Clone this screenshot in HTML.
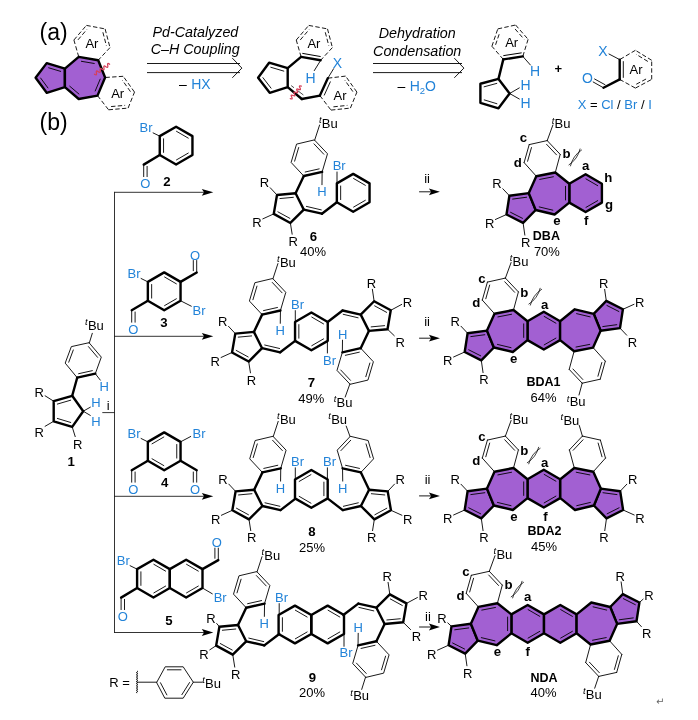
<!DOCTYPE html>
<html lang="en"><head><meta charset="utf-8"><title>Scheme</title>
<style>
html,body{margin:0;padding:0;background:#fff;}
body{width:698px;height:720px;overflow:hidden;}
svg{display:block;font-family:"Liberation Sans",sans-serif;will-change:transform;}
</style></head><body>
<svg width="698" height="720" viewBox="0 0 698 720">
<rect x="0" y="0" width="698" height="720" fill="#fff"/>
<text x="39.5" y="39.8" font-size="23" fill="#000">(a)</text>
<line x1="78.75" y1="56.9" x2="73.9" y2="40" stroke="#000" stroke-width="0.9" stroke-linecap="butt" stroke-dasharray="4.4 2.3"/>
<line x1="73.9" y1="40" x2="86.4" y2="25.4" stroke="#000" stroke-width="0.9" stroke-linecap="butt" stroke-dasharray="4.4 2.3"/>
<line x1="77.93" y1="39.91" x2="86.93" y2="29.4" stroke="#000" stroke-width="0.9" stroke-linecap="butt" stroke-dasharray="4.4 2.3"/>
<line x1="86.4" y1="25.4" x2="105.1" y2="28.9" stroke="#000" stroke-width="0.9" stroke-linecap="butt" stroke-dasharray="4.4 2.3"/>
<line x1="105.1" y1="28.9" x2="110" y2="47.6" stroke="#000" stroke-width="0.9" stroke-linecap="butt" stroke-dasharray="4.4 2.3"/>
<line x1="102.88" y1="32.28" x2="106.41" y2="45.74" stroke="#000" stroke-width="0.9" stroke-linecap="butt" stroke-dasharray="4.4 2.3"/>
<line x1="110" y1="47.6" x2="98.2" y2="60.2" stroke="#000" stroke-width="0.9" stroke-linecap="butt" stroke-dasharray="4.4 2.3"/>
<line x1="97.5" y1="95.6" x2="108.6" y2="109.8" stroke="#000" stroke-width="0.9" stroke-linecap="butt" stroke-dasharray="4.4 2.3"/>
<line x1="108.6" y1="109.8" x2="128.1" y2="108.1" stroke="#000" stroke-width="0.9" stroke-linecap="butt" stroke-dasharray="4.4 2.3"/>
<line x1="111.07" y1="106.57" x2="125.11" y2="105.35" stroke="#000" stroke-width="0.9" stroke-linecap="butt" stroke-dasharray="4.4 2.3"/>
<line x1="128.1" y1="108.1" x2="134.5" y2="92.1" stroke="#000" stroke-width="0.9" stroke-linecap="butt" stroke-dasharray="4.4 2.3"/>
<line x1="134.5" y1="92.1" x2="123.2" y2="76.3" stroke="#000" stroke-width="0.9" stroke-linecap="butt" stroke-dasharray="4.4 2.3"/>
<line x1="130.48" y1="91.63" x2="122.34" y2="80.26" stroke="#000" stroke-width="0.9" stroke-linecap="butt" stroke-dasharray="4.4 2.3"/>
<line x1="123.2" y1="76.3" x2="105.1" y2="77.5" stroke="#000" stroke-width="0.9" stroke-linecap="butt" stroke-dasharray="4.4 2.3"/>
<path d="M35.6 77.8 L46.7 63.1 L64.9 68.6 L64.9 87.2 L46.7 92.8 Z" fill="#a260d2" stroke="none"/>
<path d="M35.6 77.8 L46.7 63.1 L64.9 68.6 L64.9 87.2 L46.7 92.8 Z" fill="none" stroke="#000" stroke-width="2.4" stroke-linejoin="round" stroke-linecap="round"/>
<line x1="48.67" y1="67.77" x2="60.68" y2="71.4" stroke="#000" stroke-width="0.9" stroke-linecap="round"/>
<line x1="47.95" y1="87.93" x2="40.62" y2="78.03" stroke="#000" stroke-width="0.9" stroke-linecap="round"/>
<path d="M64.9 68.6 L78.75 56.9 L98.2 60.2 L105.1 77.5 L97.5 95.6 L78.75 99 L64.9 87.2 Z" fill="#a260d2" stroke="none"/>
<path d="M64.9 68.6 L78.75 56.9 L98.2 60.2 L105.1 77.5 L97.5 95.6 L78.75 99 L64.9 87.2 Z" fill="none" stroke="#000" stroke-width="2.4" stroke-linejoin="round" stroke-linecap="round"/>
<line x1="81.4" y1="61.31" x2="94.24" y2="63.48" stroke="#000" stroke-width="0.9" stroke-linecap="round"/>
<line x1="100.21" y1="79.07" x2="95.2" y2="91.01" stroke="#000" stroke-width="0.9" stroke-linecap="round"/>
<line x1="78.92" y1="94.03" x2="69.78" y2="86.24" stroke="#000" stroke-width="0.9" stroke-linecap="round"/>
<text x="91.9" y="48" font-size="13" fill="#000" text-anchor="middle">Ar</text>
<text x="117.7" y="98.3" font-size="13" fill="#000" text-anchor="middle">Ar</text>
<path d="M94.5 74.2 Q97.1 76.08 96.39 72.95 Q95.67 69.82 98.28 71.7 Q100.88 73.58 100.16 70.45 Q99.45 67.32 102.05 69.2 Q104.65 71.08 103.94 67.95 Q103.22 64.82 105.82 66.7 Q108.43 68.58 107.71 65.45 Q107 62.32 109.6 64.2" fill="none" stroke="#d63f58" stroke-width="1.3" stroke-linecap="round"/>
<text x="195.4" y="36.5" font-size="14.3" fill="#000" font-style="italic" text-anchor="middle">Pd-Catalyzed</text>
<text x="195.2" y="53.7" font-size="14.3" fill="#000" font-style="italic" text-anchor="middle">C–H Coupling</text>
<line x1="147" y1="63.5" x2="240" y2="63.5" stroke="#000" stroke-width="0.9" stroke-linecap="butt"/>
<line x1="147" y1="72.6" x2="240" y2="72.6" stroke="#000" stroke-width="0.9" stroke-linecap="butt"/>
<path d="M232.3 58.1 L241.9 68.1 L232.3 77.8" fill="none" stroke="#000" stroke-width="0.9" stroke-linejoin="miter" stroke-linecap="butt"/>
<text x="179" y="89.2" font-size="14" fill="#000">–</text>
<text x="191.2" y="89.2" font-size="14" fill="#2283d8">HX</text>
<path d="M258.1 77.8 L269.1 62.7 L287.7 68.2 L287.7 87.2 L269.7 92.8 Z" fill="none" stroke="#000" stroke-width="2.4" stroke-linejoin="round" stroke-linecap="round"/>
<line x1="270.78" y1="67.26" x2="283.8" y2="71.11" stroke="#000" stroke-width="0.9" stroke-linecap="round"/>
<line x1="271.05" y1="88.16" x2="262.93" y2="77.66" stroke="#000" stroke-width="0.9" stroke-linecap="round"/>
<line x1="301.1" y1="56.9" x2="296.25" y2="40" stroke="#000" stroke-width="0.9" stroke-linecap="butt" stroke-dasharray="4.4 2.3"/>
<line x1="296.25" y1="40" x2="308.75" y2="25.4" stroke="#000" stroke-width="0.9" stroke-linecap="butt" stroke-dasharray="4.4 2.3"/>
<line x1="300.28" y1="39.91" x2="309.28" y2="29.4" stroke="#000" stroke-width="0.9" stroke-linecap="butt" stroke-dasharray="4.4 2.3"/>
<line x1="308.75" y1="25.4" x2="327.5" y2="28.9" stroke="#000" stroke-width="0.9" stroke-linecap="butt" stroke-dasharray="4.4 2.3"/>
<line x1="327.5" y1="28.9" x2="332.4" y2="47.6" stroke="#000" stroke-width="0.9" stroke-linecap="butt" stroke-dasharray="4.4 2.3"/>
<line x1="325.28" y1="32.28" x2="328.81" y2="45.74" stroke="#000" stroke-width="0.9" stroke-linecap="butt" stroke-dasharray="4.4 2.3"/>
<line x1="332.4" y1="47.6" x2="320.6" y2="60.3" stroke="#000" stroke-width="0.9" stroke-linecap="butt" stroke-dasharray="4.4 2.3"/>
<line x1="287.7" y1="68.2" x2="301.1" y2="56.9" stroke="#000" stroke-width="2.4" stroke-linecap="round"/>
<line x1="301.1" y1="56.9" x2="320.6" y2="60.3" stroke="#000" stroke-width="2.4" stroke-linecap="round"/>
<line x1="320.26" y1="56.48" x2="302.71" y2="53.42" stroke="#000" stroke-width="1" stroke-linecap="round"/>
<text x="313.9" y="48" font-size="13" fill="#000" text-anchor="middle">Ar</text>
<line x1="320" y1="61.4" x2="314.3" y2="70.6" stroke="#000" stroke-width="0.9" stroke-linecap="round"/>
<text x="310.6" y="83.2" font-size="14" fill="#2283d8" text-anchor="middle">H</text>
<text x="337.5" y="67.6" font-size="14" fill="#2283d8" text-anchor="middle">X</text>
<line x1="333.6" y1="68.7" x2="327.8" y2="78.2" stroke="#000" stroke-width="0.9" stroke-linecap="round"/>
<line x1="319.9" y1="95.6" x2="331" y2="110.1" stroke="#000" stroke-width="0.9" stroke-linecap="butt" stroke-dasharray="4.4 2.3"/>
<line x1="331" y1="110.1" x2="350.4" y2="108.1" stroke="#000" stroke-width="0.9" stroke-linecap="butt" stroke-dasharray="4.4 2.3"/>
<line x1="333.41" y1="106.84" x2="347.38" y2="105.4" stroke="#000" stroke-width="0.9" stroke-linecap="butt" stroke-dasharray="4.4 2.3"/>
<line x1="350.4" y1="108.1" x2="356.9" y2="92.1" stroke="#000" stroke-width="0.9" stroke-linecap="butt" stroke-dasharray="4.4 2.3"/>
<line x1="356.9" y1="92.1" x2="345.6" y2="76.1" stroke="#000" stroke-width="0.9" stroke-linecap="butt" stroke-dasharray="4.4 2.3"/>
<line x1="352.87" y1="91.59" x2="344.73" y2="80.07" stroke="#000" stroke-width="0.9" stroke-linecap="butt" stroke-dasharray="4.4 2.3"/>
<line x1="345.6" y1="76.1" x2="327.8" y2="78.2" stroke="#000" stroke-width="0.9" stroke-linecap="butt" stroke-dasharray="4.4 2.3"/>
<line x1="327.8" y1="78.2" x2="319.9" y2="95.6" stroke="#000" stroke-width="2.4" stroke-linecap="round"/>
<line x1="330.31" y1="81.86" x2="324.31" y2="95.08" stroke="#000" stroke-width="0.9" stroke-linecap="round"/>
<line x1="319.9" y1="95.6" x2="301.8" y2="99" stroke="#000" stroke-width="2.4" stroke-linecap="round"/>
<line x1="301.8" y1="99" x2="287.7" y2="87.2" stroke="#000" stroke-width="2.4" stroke-linecap="round"/>
<line x1="291.2" y1="85.6" x2="303.4" y2="95" stroke="#000" stroke-width="0.7" stroke-linecap="butt" stroke-dasharray="3.5 5 8 0"/>
<text x="340" y="100.4" font-size="13" fill="#000" text-anchor="middle">Ar</text>
<path d="M290.3 98.6 Q293.23 99.82 291.68 97.05 Q290.12 94.28 293.05 95.5 Q295.98 96.72 294.43 93.95 Q292.87 91.18 295.8 92.4 Q298.73 93.62 297.18 90.85 Q295.62 88.08 298.55 89.3 Q301.48 90.52 299.93 87.75 Q298.37 84.98 301.3 86.2" fill="none" stroke="#d63f58" stroke-width="1.3" stroke-linecap="round"/>
<text x="417.2" y="38" font-size="14.3" fill="#000" font-style="italic" text-anchor="middle">Dehydration</text>
<text x="417.2" y="55.7" font-size="14.3" fill="#000" font-style="italic" text-anchor="middle">Condensation</text>
<line x1="373" y1="63.5" x2="462" y2="63.5" stroke="#000" stroke-width="0.9" stroke-linecap="butt"/>
<line x1="373" y1="72.6" x2="462" y2="72.6" stroke="#000" stroke-width="0.9" stroke-linecap="butt"/>
<path d="M454.3 58.1 L463.9 68.1 L454.3 77.8" fill="none" stroke="#000" stroke-width="0.9" stroke-linejoin="miter" stroke-linecap="butt"/>
<text x="397.5" y="91.2" font-size="14" fill="#000">–</text>
<text x="409.7" y="91.2" font-size="14" fill="#2283d8">H<tspan font-size="9.5" dy="3">2</tspan><tspan dy="-3">O</tspan></text>
<line x1="503.3" y1="59.4" x2="491.9" y2="46.25" stroke="#000" stroke-width="0.9" stroke-linecap="butt" stroke-dasharray="4.4 2.3"/>
<line x1="491.9" y1="46.25" x2="497.8" y2="28.9" stroke="#000" stroke-width="0.9" stroke-linecap="butt" stroke-dasharray="4.4 2.3"/>
<line x1="495.57" y1="44.79" x2="499.81" y2="32.29" stroke="#000" stroke-width="0.9" stroke-linecap="butt" stroke-dasharray="4.4 2.3"/>
<line x1="497.8" y1="28.9" x2="515.6" y2="25" stroke="#000" stroke-width="0.9" stroke-linecap="butt" stroke-dasharray="4.4 2.3"/>
<line x1="515.6" y1="25" x2="528.1" y2="39.3" stroke="#000" stroke-width="0.9" stroke-linecap="butt" stroke-dasharray="4.4 2.3"/>
<line x1="515.09" y1="28.98" x2="524.09" y2="39.27" stroke="#000" stroke-width="0.9" stroke-linecap="butt" stroke-dasharray="4.4 2.3"/>
<line x1="528.1" y1="39.3" x2="522.8" y2="56.4" stroke="#000" stroke-width="0.9" stroke-linecap="butt" stroke-dasharray="4.4 2.3"/>
<line x1="503.3" y1="59.4" x2="522.8" y2="56.4" stroke="#000" stroke-width="2.4" stroke-linecap="round"/>
<line x1="521.26" y1="52.89" x2="503.71" y2="55.59" stroke="#000" stroke-width="1" stroke-linecap="round"/>
<text x="511.7" y="46.7" font-size="13" fill="#000" text-anchor="middle">Ar</text>
<line x1="503.3" y1="59.4" x2="498.5" y2="78.9" stroke="#000" stroke-width="2.4" stroke-linecap="round"/>
<path d="M498.5 78.9 L480.4 83.75 L480.4 102.8 L498.5 108.3 L509.6 93.5 Z" fill="none" stroke="#000" stroke-width="2.4" stroke-linejoin="round" stroke-linecap="round"/>
<line x1="496.79" y1="83.39" x2="484.12" y2="86.79" stroke="#000" stroke-width="0.9" stroke-linecap="round"/>
<line x1="484.25" y1="99.89" x2="496.92" y2="103.74" stroke="#000" stroke-width="0.9" stroke-linecap="round"/>
<line x1="522.8" y1="56.4" x2="530.4" y2="65" stroke="#000" stroke-width="0.9" stroke-linecap="round"/>
<line x1="509.6" y1="93.5" x2="519.3" y2="87.9" stroke="#000" stroke-width="0.9" stroke-linecap="round"/>
<line x1="509.6" y1="93.5" x2="519.3" y2="99" stroke="#000" stroke-width="0.9" stroke-linecap="round"/>
<text x="535" y="75.8" font-size="14" fill="#2283d8" text-anchor="middle">H</text>
<text x="525.6" y="90.1" font-size="14" fill="#2283d8" text-anchor="middle">H</text>
<text x="525.6" y="107.9" font-size="14" fill="#2283d8" text-anchor="middle">H</text>
<text x="558.2" y="73" font-size="13" fill="#000" font-weight="bold" text-anchor="middle">+</text>
<line x1="619.7" y1="79.4" x2="635.4" y2="88.1" stroke="#000" stroke-width="0.9" stroke-linecap="butt" stroke-dasharray="4.4 2.3"/>
<line x1="635.4" y1="88.1" x2="651.7" y2="79.4" stroke="#000" stroke-width="0.9" stroke-linecap="butt" stroke-dasharray="4.4 2.3"/>
<line x1="636.27" y1="84.24" x2="648.01" y2="77.97" stroke="#000" stroke-width="0.9" stroke-linecap="butt" stroke-dasharray="4.4 2.3"/>
<line x1="651.7" y1="79.4" x2="651.7" y2="60.3" stroke="#000" stroke-width="0.9" stroke-linecap="butt" stroke-dasharray="4.4 2.3"/>
<line x1="651.7" y1="60.3" x2="635.4" y2="50.3" stroke="#000" stroke-width="0.9" stroke-linecap="butt" stroke-dasharray="4.4 2.3"/>
<line x1="647.85" y1="61.46" x2="636.11" y2="54.26" stroke="#000" stroke-width="0.9" stroke-linecap="butt" stroke-dasharray="4.4 2.3"/>
<line x1="635.4" y1="50.3" x2="619.7" y2="59.6" stroke="#000" stroke-width="0.9" stroke-linecap="butt" stroke-dasharray="4.4 2.3"/>
<line x1="619.7" y1="59.6" x2="619.7" y2="79.4" stroke="#000" stroke-width="2.4" stroke-linecap="round"/>
<line x1="623.3" y1="61.58" x2="623.3" y2="77.42" stroke="#000" stroke-width="0.9" stroke-linecap="round"/>
<text x="636.1" y="74" font-size="13" fill="#000" text-anchor="middle">Ar</text>
<line x1="609" y1="54" x2="619.7" y2="59.6" stroke="#000" stroke-width="0.9" stroke-linecap="round"/>
<text x="602.8" y="56.2" font-size="14" fill="#2283d8" text-anchor="middle">X</text>
<text x="587.5" y="82.6" font-size="14" fill="#2283d8" text-anchor="middle">O</text>
<line x1="619.7" y1="79.4" x2="603.5" y2="87.8" stroke="#000" stroke-width="2.4" stroke-linecap="round"/>
<line x1="603.5" y1="87.8" x2="593.2" y2="82" stroke="#000" stroke-width="0.9" stroke-linecap="round"/>
<line x1="605" y1="84.7" x2="594.6" y2="79" stroke="#000" stroke-width="0.9" stroke-linecap="round"/>
<text x="577.7" y="108.7" font-size="13"><tspan fill="#2283d8">X</tspan> = <tspan fill="#2283d8">Cl</tspan> / <tspan fill="#2283d8">Br</tspan> / <tspan fill="#2283d8">I</tspan></text>
<text x="39.5" y="129.6" font-size="23" fill="#000">(b)</text>
<line x1="114.5" y1="192.3" x2="114.5" y2="632.5" stroke="#000" stroke-width="0.8" stroke-linecap="square"/>
<line x1="102.3" y1="412.6" x2="114.5" y2="412.6" stroke="#000" stroke-width="0.8" stroke-linecap="butt"/>
<text x="108.3" y="410.25" font-size="13" fill="#000" text-anchor="middle">i</text>
<line x1="114.5" y1="192.3" x2="204" y2="192.3" stroke="#000" stroke-width="0.8" stroke-linecap="butt"/>
<path d="M213.3 192.3 L201.8 188.9 L204 192.3 L201.8 195.7 Z" fill="#000" stroke="none"/>
<line x1="114.5" y1="336.3" x2="204" y2="336.3" stroke="#000" stroke-width="0.8" stroke-linecap="butt"/>
<path d="M213.3 336.3 L201.8 332.9 L204 336.3 L201.8 339.7 Z" fill="#000" stroke="none"/>
<line x1="114.5" y1="496.3" x2="204" y2="496.3" stroke="#000" stroke-width="0.8" stroke-linecap="butt"/>
<path d="M213.3 496.3 L201.8 492.9 L204 496.3 L201.8 499.7 Z" fill="#000" stroke="none"/>
<line x1="114.5" y1="632.5" x2="204" y2="632.5" stroke="#000" stroke-width="0.8" stroke-linecap="butt"/>
<path d="M213.3 632.5 L201.8 629.1 L204 632.5 L201.8 635.9 Z" fill="#000" stroke="none"/>
<path d="M159.75 136.15 L176.1 126.7 L192.45 136.15 L192.45 155.05 L176.1 164.5 L159.75 155.05 Z" fill="none" stroke="#000" stroke-width="2.4" stroke-linejoin="round" stroke-linecap="round"/>
<line x1="176.49" y1="131.31" x2="188.26" y2="138.12" stroke="#000" stroke-width="0.9" stroke-linecap="round"/>
<line x1="188.26" y1="153.08" x2="176.49" y2="159.89" stroke="#000" stroke-width="0.9" stroke-linecap="round"/>
<line x1="163.55" y1="152.4" x2="163.55" y2="138.8" stroke="#000" stroke-width="0.9" stroke-linecap="round"/>
<line x1="153.1" y1="132.9" x2="159.75" y2="136.15" stroke="#000" stroke-width="0.9" stroke-linecap="round"/>
<text x="139.5" y="132.1" font-size="13" fill="#2283d8">Br</text>
<line x1="159.75" y1="155.05" x2="143.7" y2="164.6" stroke="#000" stroke-width="2.4" stroke-linecap="round"/>
<line x1="143.7" y1="164.6" x2="143.7" y2="176.6" stroke="#000" stroke-width="0.9" stroke-linecap="round"/>
<line x1="147.1" y1="166.4" x2="147.1" y2="176.6" stroke="#000" stroke-width="0.9" stroke-linecap="round"/>
<text x="145.3" y="188.45" font-size="13" fill="#2283d8" text-anchor="middle">O</text>
<text x="166.8" y="185.53" font-size="13.2" fill="#000" font-weight="bold" text-anchor="middle">2</text>
<path d="M147.85 281.85 L164.2 272.4 L180.55 281.85 L180.55 300.75 L164.2 310.2 L147.85 300.75 Z" fill="none" stroke="#000" stroke-width="2.4" stroke-linejoin="round" stroke-linecap="round"/>
<line x1="164.59" y1="277.01" x2="176.36" y2="283.82" stroke="#000" stroke-width="0.9" stroke-linecap="round"/>
<line x1="176.36" y1="298.78" x2="164.59" y2="305.59" stroke="#000" stroke-width="0.9" stroke-linecap="round"/>
<line x1="151.65" y1="298.1" x2="151.65" y2="284.5" stroke="#000" stroke-width="0.9" stroke-linecap="round"/>
<line x1="141.1" y1="278.5" x2="147.85" y2="281.85" stroke="#000" stroke-width="0.9" stroke-linecap="round"/>
<text x="127.5" y="277.7" font-size="13" fill="#2283d8">Br</text>
<line x1="180.55" y1="281.85" x2="196.7" y2="272.5" stroke="#000" stroke-width="2.4" stroke-linecap="round"/>
<line x1="196.7" y1="272.5" x2="196.7" y2="260.5" stroke="#000" stroke-width="0.9" stroke-linecap="round"/>
<line x1="193.3" y1="270.7" x2="193.3" y2="260.5" stroke="#000" stroke-width="0.9" stroke-linecap="round"/>
<text x="195.1" y="259.55" font-size="13" fill="#2283d8" text-anchor="middle">O</text>
<line x1="180.55" y1="300.75" x2="191.3" y2="306.2" stroke="#000" stroke-width="0.9" stroke-linecap="round"/>
<text x="192.5" y="314.6" font-size="13" fill="#2283d8">Br</text>
<line x1="147.85" y1="300.75" x2="131.7" y2="310.2" stroke="#000" stroke-width="2.4" stroke-linecap="round"/>
<line x1="131.7" y1="310.2" x2="131.7" y2="322.2" stroke="#000" stroke-width="0.9" stroke-linecap="round"/>
<line x1="135.1" y1="312" x2="135.1" y2="322.2" stroke="#000" stroke-width="0.9" stroke-linecap="round"/>
<text x="133.3" y="334.05" font-size="13" fill="#2283d8" text-anchor="middle">O</text>
<text x="163.8" y="326.93" font-size="13.2" fill="#000" font-weight="bold" text-anchor="middle">3</text>
<path d="M147.85 441.85 L164.2 432.4 L180.55 441.85 L180.55 460.75 L164.2 470.2 L147.85 460.75 Z" fill="none" stroke="#000" stroke-width="2.4" stroke-linejoin="round" stroke-linecap="round"/>
<line x1="152.04" y1="443.82" x2="163.81" y2="437.01" stroke="#000" stroke-width="0.9" stroke-linecap="round"/>
<line x1="176.75" y1="444.5" x2="176.75" y2="458.1" stroke="#000" stroke-width="0.9" stroke-linecap="round"/>
<line x1="163.81" y1="465.59" x2="152.04" y2="458.78" stroke="#000" stroke-width="0.9" stroke-linecap="round"/>
<line x1="141.1" y1="438.5" x2="147.85" y2="441.85" stroke="#000" stroke-width="0.9" stroke-linecap="round"/>
<text x="127.5" y="437.7" font-size="13" fill="#2283d8">Br</text>
<line x1="180.55" y1="441.85" x2="190.7" y2="436.5" stroke="#000" stroke-width="0.9" stroke-linecap="round"/>
<text x="192.5" y="437.7" font-size="13" fill="#2283d8">Br</text>
<line x1="147.85" y1="460.75" x2="131.7" y2="470.2" stroke="#000" stroke-width="2.4" stroke-linecap="round"/>
<line x1="131.7" y1="470.2" x2="131.7" y2="482.2" stroke="#000" stroke-width="0.9" stroke-linecap="round"/>
<line x1="135.1" y1="472" x2="135.1" y2="482.2" stroke="#000" stroke-width="0.9" stroke-linecap="round"/>
<text x="133.3" y="494.05" font-size="13" fill="#2283d8" text-anchor="middle">O</text>
<line x1="180.55" y1="460.75" x2="196.7" y2="470.2" stroke="#000" stroke-width="2.4" stroke-linecap="round"/>
<line x1="196.7" y1="470.2" x2="196.7" y2="482.2" stroke="#000" stroke-width="0.9" stroke-linecap="round"/>
<line x1="193.3" y1="472" x2="193.3" y2="482.2" stroke="#000" stroke-width="0.9" stroke-linecap="round"/>
<text x="195.1" y="494.05" font-size="13" fill="#2283d8" text-anchor="middle">O</text>
<text x="164.6" y="486.53" font-size="13.2" fill="#000" font-weight="bold" text-anchor="middle">4</text>
<path d="M137.1 569.15 L153.45 559.7 L169.8 569.15 L169.8 588.05 L153.45 597.5 L137.1 588.05 Z" fill="none" stroke="#000" stroke-width="2.4" stroke-linejoin="round" stroke-linecap="round"/>
<line x1="153.84" y1="564.31" x2="165.61" y2="571.12" stroke="#000" stroke-width="0.9" stroke-linecap="round"/>
<line x1="165.61" y1="586.08" x2="153.84" y2="592.89" stroke="#000" stroke-width="0.9" stroke-linecap="round"/>
<line x1="140.9" y1="585.4" x2="140.9" y2="571.8" stroke="#000" stroke-width="0.9" stroke-linecap="round"/>
<path d="M169.8 569.15 L186.15 559.7 L202.5 569.15 L202.5 588.05 L186.15 597.5 L169.8 588.05 Z" fill="none" stroke="#000" stroke-width="2.4" stroke-linejoin="round" stroke-linecap="round"/>
<line x1="186.54" y1="564.31" x2="198.31" y2="571.12" stroke="#000" stroke-width="0.9" stroke-linecap="round"/>
<line x1="198.31" y1="586.08" x2="186.54" y2="592.89" stroke="#000" stroke-width="0.9" stroke-linecap="round"/>
<line x1="130.1" y1="565.7" x2="137.1" y2="569.15" stroke="#000" stroke-width="0.9" stroke-linecap="round"/>
<text x="116.8" y="565.1" font-size="13" fill="#2283d8">Br</text>
<line x1="137.1" y1="588.05" x2="121.1" y2="597.6" stroke="#000" stroke-width="2.4" stroke-linecap="round"/>
<line x1="121.1" y1="597.6" x2="121.1" y2="609.6" stroke="#000" stroke-width="0.9" stroke-linecap="round"/>
<line x1="124.5" y1="599.4" x2="124.5" y2="609.6" stroke="#000" stroke-width="0.9" stroke-linecap="round"/>
<text x="122.7" y="621.45" font-size="13" fill="#2283d8" text-anchor="middle">O</text>
<line x1="202.5" y1="569.15" x2="218.3" y2="560.1" stroke="#000" stroke-width="2.4" stroke-linecap="round"/>
<line x1="218.3" y1="560.1" x2="218.3" y2="548.1" stroke="#000" stroke-width="0.9" stroke-linecap="round"/>
<line x1="214.9" y1="558.3" x2="214.9" y2="548.1" stroke="#000" stroke-width="0.9" stroke-linecap="round"/>
<text x="216.7" y="547.15" font-size="13" fill="#2283d8" text-anchor="middle">O</text>
<line x1="202.5" y1="588.05" x2="212.3" y2="593.8" stroke="#000" stroke-width="0.9" stroke-linecap="round"/>
<text x="213.7" y="602.2" font-size="13" fill="#2283d8">Br</text>
<text x="168.8" y="625.13" font-size="13.2" fill="#000" font-weight="bold" text-anchor="middle">5</text>
<text x="109.3" y="686.8" font-size="13" fill="#000">R =</text>
<path d="M137.1 671 q1.6 0.55 0 1.1 q-1.6 0.55 0 1.1 q1.6 0.55 0 1.1 q-1.6 0.55 0 1.1 q1.6 0.55 0 1.1 q-1.6 0.55 0 1.1 q1.6 0.55 0 1.1 q-1.6 0.55 0 1.1 q1.6 0.55 0 1.1 q-1.6 0.55 0 1.1 q1.6 0.55 0 1.1 q-1.6 0.55 0 1.1 q1.6 0.55 0 1.1 q-1.6 0.55 0 1.1 q1.6 0.55 0 1.1 q-1.6 0.55 0 1.1 q1.6 0.55 0 1.1 q-1.6 0.55 0 1.1 q1.6 0.55 0 1.1 q-1.6 0.55 0 1.1" fill="none" stroke="#000" stroke-width="0.9"/>
<line x1="137.1" y1="682.2" x2="156.8" y2="682.2" stroke="#000" stroke-width="0.9" stroke-linecap="round"/>
<path d="M156.8 682.2 L165.2 666.8 L183.2 666.8 L193.3 682.2 L183.2 698.2 L165.2 698.2 Z" fill="none" stroke="#000" stroke-width="0.9" stroke-linejoin="round" stroke-linecap="round"/>
<line x1="167.36" y1="669.8" x2="181.04" y2="669.8" stroke="#000" stroke-width="0.9" stroke-linecap="round"/>
<line x1="189.55" y1="682.52" x2="181.88" y2="694.68" stroke="#000" stroke-width="0.9" stroke-linecap="round"/>
<line x1="166.85" y1="694.89" x2="160.46" y2="682.73" stroke="#000" stroke-width="0.9" stroke-linecap="round"/>
<line x1="193.3" y1="682.2" x2="202.3" y2="682.2" stroke="#000" stroke-width="0.9" stroke-linecap="round"/>
<text x="204.8" y="682.8" font-size="9.5" font-style="italic" fill="#000" text-anchor="end">t</text>
<text x="205" y="687.7" font-size="13" fill="#000">Bu</text>
<path d="M89.3 343 L101.3 357.1 L95.3 373.7 L77.2 377.7 L65.2 363.1 L71.2 347 Z" fill="none" stroke="#000" stroke-width="0.9" stroke-linejoin="round" stroke-linecap="round"/>
<line x1="88.46" y1="346.64" x2="97.58" y2="357.35" stroke="#000" stroke-width="0.9" stroke-linecap="round"/>
<line x1="68.73" y1="362.22" x2="73.29" y2="349.98" stroke="#000" stroke-width="0.9" stroke-linecap="round"/>
<line x1="92.35" y1="370.66" x2="78.6" y2="373.7" stroke="#000" stroke-width="0.9" stroke-linecap="round"/>
<line x1="95.3" y1="373.7" x2="77.2" y2="377.7" stroke="#000" stroke-width="2.4" stroke-linecap="round"/>
<line x1="89.3" y1="343" x2="92.3" y2="333.3" stroke="#000" stroke-width="0.9" stroke-linecap="round"/>
<text x="87.7" y="325.3" font-size="9.5" font-style="italic" fill="#000" text-anchor="end">t</text>
<text x="87.9" y="330.2" font-size="13" fill="#000">Bu</text>
<line x1="95.3" y1="373.7" x2="100.3" y2="380.1" stroke="#000" stroke-width="0.9" stroke-linecap="round"/>
<text x="104.3" y="390.85" font-size="13" fill="#2283d8" text-anchor="middle">H</text>
<line x1="77.2" y1="377.7" x2="72.2" y2="395.8" stroke="#000" stroke-width="2.4" stroke-linecap="round"/>
<path d="M72.2 395.8 L53.7 401.2 L53.7 421.3 L72.2 426.9 L83.2 411.2 Z" fill="none" stroke="#000" stroke-width="2.4" stroke-linejoin="round" stroke-linecap="round"/>
<line x1="70.67" y1="400.2" x2="57.35" y2="404.09" stroke="#000" stroke-width="0.9" stroke-linecap="round"/>
<line x1="57.39" y1="418.45" x2="70.71" y2="422.48" stroke="#000" stroke-width="0.9" stroke-linecap="round"/>
<line x1="45.1" y1="395.8" x2="53.7" y2="401.2" stroke="#000" stroke-width="0.9" stroke-linecap="round"/>
<line x1="45.1" y1="426.3" x2="53.7" y2="421.3" stroke="#000" stroke-width="0.9" stroke-linecap="round"/>
<line x1="72.2" y1="426.9" x2="75.2" y2="436.6" stroke="#000" stroke-width="0.9" stroke-linecap="round"/>
<text x="39.1" y="396.85" font-size="13" fill="#000" text-anchor="middle">R</text>
<text x="39.1" y="436.75" font-size="13" fill="#000" text-anchor="middle">R</text>
<text x="77.8" y="449.15" font-size="13" fill="#000" text-anchor="middle">R</text>
<line x1="83.2" y1="411.2" x2="90.3" y2="407.2" stroke="#000" stroke-width="0.9" stroke-linecap="round"/>
<line x1="83.2" y1="411.2" x2="90.3" y2="415.4" stroke="#000" stroke-width="0.9" stroke-linecap="round"/>
<text x="95.9" y="407.45" font-size="13" fill="#2283d8" text-anchor="middle">H</text>
<text x="95.9" y="425.95" font-size="13" fill="#2283d8" text-anchor="middle">H</text>
<text x="71.2" y="465.73" font-size="13.2" fill="#000" font-weight="bold" text-anchor="middle">1</text>
<path d="M314.64 140.18 L327.49 153.77 L322.15 171.9 L303.8 176.02 L291.11 162.43 L296.45 144.51 Z" fill="none" stroke="#000" stroke-width="0.9" stroke-linejoin="round" stroke-linecap="round"/>
<line x1="314" y1="143.87" x2="323.77" y2="154.2" stroke="#000" stroke-width="0.9" stroke-linecap="round"/>
<line x1="294.63" y1="161.14" x2="298.68" y2="147.52" stroke="#000" stroke-width="0.9" stroke-linecap="round"/>
<line x1="319.16" y1="168.88" x2="305.21" y2="172.01" stroke="#000" stroke-width="0.9" stroke-linecap="round"/>
<line x1="322.15" y1="171.9" x2="303.8" y2="176.02" stroke="#000" stroke-width="2.4" stroke-linecap="round"/>
<line x1="314.64" y1="140.18" x2="319.6" y2="125" stroke="#000" stroke-width="0.9" stroke-linecap="round"/>
<line x1="322.15" y1="171.9" x2="321.98" y2="184.7" stroke="#000" stroke-width="0.9" stroke-linecap="round"/>
<text x="321.9" y="196.45" font-size="13" fill="#2283d8" text-anchor="middle">H</text>
<line x1="303.8" y1="176.02" x2="295.6" y2="193.3" stroke="#000" stroke-width="2.4" stroke-linecap="round"/>
<path d="M295.6 193.3 L277 195 L273.75 213.9 L290.37 222.95 L303.78 209.6 Z" fill="none" stroke="#000" stroke-width="2.4" stroke-linejoin="round" stroke-linecap="round"/>
<line x1="293.34" y1="197.32" x2="279.95" y2="198.55" stroke="#000" stroke-width="0.9" stroke-linecap="round"/>
<line x1="277.89" y1="211.83" x2="289.86" y2="218.35" stroke="#000" stroke-width="0.9" stroke-linecap="round"/>
<line x1="303.78" y1="209.6" x2="321.9" y2="213.7" stroke="#000" stroke-width="2.4" stroke-linecap="round"/>
<line x1="306.4" y1="206.4" x2="321.3" y2="209.9" stroke="#000" stroke-width="0.9" stroke-linecap="round"/>
<line x1="321.9" y1="213.7" x2="336.85" y2="202.25" stroke="#000" stroke-width="2.4" stroke-linecap="round"/>
<line x1="277" y1="195" x2="270.2" y2="187.71" stroke="#000" stroke-width="0.9" stroke-linecap="round"/>
<text x="264.4" y="187.25" font-size="13" fill="#000" text-anchor="middle">R</text>
<line x1="273.75" y1="213.9" x2="262.8" y2="218.87" stroke="#000" stroke-width="0.9" stroke-linecap="round"/>
<text x="257" y="227.25" font-size="13" fill="#000" text-anchor="middle">R</text>
<line x1="290.37" y1="222.95" x2="292.15" y2="234.2" stroke="#000" stroke-width="0.9" stroke-linecap="round"/>
<text x="293.1" y="245.95" font-size="13" fill="#000" text-anchor="middle">R</text>
<text x="321.6" y="122.7" font-size="9.5" font-style="italic" fill="#000" text-anchor="end">t</text>
<text x="321.8" y="127.6" font-size="13" fill="#000">Bu</text>
<path d="M336.85 183.35 L353.2 173.9 L369.55 183.35 L369.55 202.25 L353.2 211.7 L336.85 202.25 Z" fill="none" stroke="#000" stroke-width="2.4" stroke-linejoin="round" stroke-linecap="round"/>
<line x1="353.59" y1="178.51" x2="365.36" y2="185.32" stroke="#000" stroke-width="0.9" stroke-linecap="round"/>
<line x1="365.36" y1="200.28" x2="353.59" y2="207.09" stroke="#000" stroke-width="0.9" stroke-linecap="round"/>
<line x1="340.65" y1="199.6" x2="340.65" y2="186" stroke="#000" stroke-width="0.9" stroke-linecap="round"/>
<text x="332.7" y="169.6" font-size="13" fill="#2283d8">Br</text>
<line x1="337" y1="172" x2="337" y2="183.3" stroke="#000" stroke-width="0.9" stroke-linecap="round"/>
<text x="313.3" y="240.63" font-size="13.2" fill="#000" font-weight="bold" text-anchor="middle">6</text>
<text x="313" y="256" font-size="13" fill="#000" text-anchor="middle">40%</text>
<line x1="419.1" y1="191.8" x2="431.1" y2="191.8" stroke="#000" stroke-width="0.9" stroke-linecap="butt"/>
<path d="M439.9 191.8 L428.9 188.4 L431.1 191.8 L428.9 195.2 Z" fill="#000" stroke="none"/>
<text x="427.1" y="182.85" font-size="13" fill="#000" text-anchor="middle">ii</text>
<path d="M272.94 278.78 L285.79 292.37 L280.45 310.5 L262.1 314.62 L249.41 301.03 L254.75 283.11 Z" fill="none" stroke="#000" stroke-width="0.9" stroke-linejoin="round" stroke-linecap="round"/>
<line x1="272.3" y1="282.47" x2="282.07" y2="292.8" stroke="#000" stroke-width="0.9" stroke-linecap="round"/>
<line x1="252.93" y1="299.74" x2="256.98" y2="286.12" stroke="#000" stroke-width="0.9" stroke-linecap="round"/>
<line x1="277.46" y1="307.48" x2="263.51" y2="310.61" stroke="#000" stroke-width="0.9" stroke-linecap="round"/>
<line x1="280.45" y1="310.5" x2="262.1" y2="314.62" stroke="#000" stroke-width="2.4" stroke-linecap="round"/>
<line x1="272.94" y1="278.78" x2="277.9" y2="263.6" stroke="#000" stroke-width="0.9" stroke-linecap="round"/>
<line x1="280.45" y1="310.5" x2="280.28" y2="323.3" stroke="#000" stroke-width="0.9" stroke-linecap="round"/>
<text x="280.2" y="335.05" font-size="13" fill="#2283d8" text-anchor="middle">H</text>
<line x1="262.1" y1="314.62" x2="253.9" y2="331.9" stroke="#000" stroke-width="2.4" stroke-linecap="round"/>
<path d="M253.9 331.9 L235.3 333.6 L232.05 352.5 L248.67 361.55 L262.08 348.2 Z" fill="none" stroke="#000" stroke-width="2.4" stroke-linejoin="round" stroke-linecap="round"/>
<line x1="251.64" y1="335.92" x2="238.25" y2="337.15" stroke="#000" stroke-width="0.9" stroke-linecap="round"/>
<line x1="236.19" y1="350.43" x2="248.16" y2="356.95" stroke="#000" stroke-width="0.9" stroke-linecap="round"/>
<line x1="262.08" y1="348.2" x2="280.2" y2="352.3" stroke="#000" stroke-width="2.4" stroke-linecap="round"/>
<line x1="264.7" y1="345" x2="279.6" y2="348.5" stroke="#000" stroke-width="0.9" stroke-linecap="round"/>
<line x1="280.2" y1="352.3" x2="295.15" y2="340.85" stroke="#000" stroke-width="2.4" stroke-linecap="round"/>
<line x1="235.3" y1="333.6" x2="228.5" y2="326.31" stroke="#000" stroke-width="0.9" stroke-linecap="round"/>
<text x="222.7" y="325.85" font-size="13" fill="#000" text-anchor="middle">R</text>
<line x1="232.05" y1="352.5" x2="221.1" y2="357.47" stroke="#000" stroke-width="0.9" stroke-linecap="round"/>
<text x="215.3" y="365.85" font-size="13" fill="#000" text-anchor="middle">R</text>
<line x1="248.67" y1="361.55" x2="250.45" y2="372.8" stroke="#000" stroke-width="0.9" stroke-linecap="round"/>
<text x="251.4" y="384.55" font-size="13" fill="#000" text-anchor="middle">R</text>
<text x="279.7" y="262.1" font-size="9.5" font-style="italic" fill="#000" text-anchor="end">t</text>
<text x="279.9" y="267" font-size="13" fill="#000">Bu</text>
<path d="M295.05 321.95 L311.4 312.5 L327.75 321.95 L327.75 340.85 L311.4 350.3 L295.05 340.85 Z" fill="none" stroke="#000" stroke-width="2.4" stroke-linejoin="round" stroke-linecap="round"/>
<line x1="311.79" y1="317.11" x2="323.56" y2="323.92" stroke="#000" stroke-width="0.9" stroke-linecap="round"/>
<line x1="323.56" y1="338.88" x2="311.79" y2="345.69" stroke="#000" stroke-width="0.9" stroke-linecap="round"/>
<line x1="298.85" y1="338.2" x2="298.85" y2="324.6" stroke="#000" stroke-width="0.9" stroke-linecap="round"/>
<text x="291.1" y="308.5" font-size="13" fill="#2283d8">Br</text>
<line x1="295.3" y1="310.6" x2="295.3" y2="322.1" stroke="#000" stroke-width="0.9" stroke-linecap="round"/>
<text x="323.1" y="364.7" font-size="13" fill="#2283d8">Br</text>
<line x1="327.4" y1="341" x2="327.4" y2="353" stroke="#000" stroke-width="0.9" stroke-linecap="round"/>
<path d="M349.86 384.02 L337.01 370.43 L342.35 352.3 L360.7 348.18 L373.39 361.77 L368.05 379.69 Z" fill="none" stroke="#000" stroke-width="0.9" stroke-linejoin="round" stroke-linecap="round"/>
<line x1="350.5" y1="380.33" x2="340.73" y2="370" stroke="#000" stroke-width="0.9" stroke-linecap="round"/>
<line x1="369.87" y1="363.06" x2="365.82" y2="376.68" stroke="#000" stroke-width="0.9" stroke-linecap="round"/>
<line x1="345.34" y1="355.32" x2="359.29" y2="352.19" stroke="#000" stroke-width="0.9" stroke-linecap="round"/>
<line x1="342.35" y1="352.3" x2="360.7" y2="348.18" stroke="#000" stroke-width="2.4" stroke-linecap="round"/>
<line x1="349.86" y1="384.02" x2="345.2" y2="397" stroke="#000" stroke-width="0.9" stroke-linecap="round"/>
<line x1="342.35" y1="352.3" x2="342.51" y2="340.2" stroke="#000" stroke-width="0.9" stroke-linecap="round"/>
<text x="342.6" y="339.25" font-size="13" fill="#2283d8" text-anchor="middle">H</text>
<line x1="360.7" y1="348.18" x2="368.9" y2="330.9" stroke="#000" stroke-width="2.4" stroke-linecap="round"/>
<path d="M368.9 330.9 L387.5 329.2 L390.75 310.3 L374.13 301.25 L360.72 314.6 Z" fill="none" stroke="#000" stroke-width="2.4" stroke-linejoin="round" stroke-linecap="round"/>
<line x1="371.16" y1="326.88" x2="384.55" y2="325.65" stroke="#000" stroke-width="0.9" stroke-linecap="round"/>
<line x1="386.61" y1="312.37" x2="374.64" y2="305.85" stroke="#000" stroke-width="0.9" stroke-linecap="round"/>
<line x1="360.72" y1="314.6" x2="342.6" y2="310.5" stroke="#000" stroke-width="2.4" stroke-linecap="round"/>
<line x1="358.1" y1="317.8" x2="343.2" y2="314.3" stroke="#000" stroke-width="0.9" stroke-linecap="round"/>
<line x1="342.6" y1="310.5" x2="327.65" y2="321.95" stroke="#000" stroke-width="2.4" stroke-linecap="round"/>
<line x1="387.5" y1="329.2" x2="394.3" y2="335.73" stroke="#000" stroke-width="0.9" stroke-linecap="round"/>
<text x="400.1" y="347.05" font-size="13" fill="#000" text-anchor="middle">R</text>
<line x1="390.75" y1="310.3" x2="401.7" y2="304.42" stroke="#000" stroke-width="0.9" stroke-linecap="round"/>
<text x="407.5" y="307.05" font-size="13" fill="#000" text-anchor="middle">R</text>
<line x1="374.13" y1="301.25" x2="372.38" y2="289.3" stroke="#000" stroke-width="0.9" stroke-linecap="round"/>
<text x="371.4" y="288.35" font-size="13" fill="#000" text-anchor="middle">R</text>
<text x="336.4" y="402.2" font-size="9.5" font-style="italic" fill="#000" text-anchor="end">t</text>
<text x="336.6" y="407.1" font-size="13" fill="#000">Bu</text>
<text x="311.5" y="387.13" font-size="13.2" fill="#000" font-weight="bold" text-anchor="middle">7</text>
<text x="311.2" y="402.5" font-size="13" fill="#000" text-anchor="middle">49%</text>
<line x1="419.1" y1="338.2" x2="431.1" y2="338.2" stroke="#000" stroke-width="0.9" stroke-linecap="butt"/>
<path d="M439.9 338.2 L428.9 334.8 L431.1 338.2 L428.9 341.6 Z" fill="#000" stroke="none"/>
<text x="427.1" y="326.45" font-size="13" fill="#000" text-anchor="middle">ii</text>
<path d="M273.24 436.58 L286.09 450.17 L280.75 468.3 L262.4 472.42 L249.71 458.83 L255.05 440.91 Z" fill="none" stroke="#000" stroke-width="0.9" stroke-linejoin="round" stroke-linecap="round"/>
<line x1="272.6" y1="440.27" x2="282.37" y2="450.6" stroke="#000" stroke-width="0.9" stroke-linecap="round"/>
<line x1="253.23" y1="457.54" x2="257.28" y2="443.92" stroke="#000" stroke-width="0.9" stroke-linecap="round"/>
<line x1="277.76" y1="465.28" x2="263.81" y2="468.41" stroke="#000" stroke-width="0.9" stroke-linecap="round"/>
<line x1="280.75" y1="468.3" x2="262.4" y2="472.42" stroke="#000" stroke-width="2.4" stroke-linecap="round"/>
<line x1="273.24" y1="436.58" x2="278.2" y2="421.4" stroke="#000" stroke-width="0.9" stroke-linecap="round"/>
<line x1="280.75" y1="468.3" x2="280.58" y2="481.1" stroke="#000" stroke-width="0.9" stroke-linecap="round"/>
<text x="280.5" y="492.85" font-size="13" fill="#2283d8" text-anchor="middle">H</text>
<line x1="262.4" y1="472.42" x2="254.2" y2="489.7" stroke="#000" stroke-width="2.4" stroke-linecap="round"/>
<path d="M254.2 489.7 L235.6 491.4 L232.35 510.3 L248.97 519.35 L262.38 506 Z" fill="none" stroke="#000" stroke-width="2.4" stroke-linejoin="round" stroke-linecap="round"/>
<line x1="251.94" y1="493.72" x2="238.55" y2="494.95" stroke="#000" stroke-width="0.9" stroke-linecap="round"/>
<line x1="236.49" y1="508.23" x2="248.46" y2="514.75" stroke="#000" stroke-width="0.9" stroke-linecap="round"/>
<line x1="262.38" y1="506" x2="280.5" y2="510.1" stroke="#000" stroke-width="2.4" stroke-linecap="round"/>
<line x1="265" y1="502.8" x2="279.9" y2="506.3" stroke="#000" stroke-width="0.9" stroke-linecap="round"/>
<line x1="280.5" y1="510.1" x2="295.45" y2="498.65" stroke="#000" stroke-width="2.4" stroke-linecap="round"/>
<line x1="235.6" y1="491.4" x2="228.8" y2="484.11" stroke="#000" stroke-width="0.9" stroke-linecap="round"/>
<text x="223" y="483.65" font-size="13" fill="#000" text-anchor="middle">R</text>
<line x1="232.35" y1="510.3" x2="221.4" y2="515.27" stroke="#000" stroke-width="0.9" stroke-linecap="round"/>
<text x="215.6" y="523.65" font-size="13" fill="#000" text-anchor="middle">R</text>
<line x1="248.97" y1="519.35" x2="250.75" y2="530.6" stroke="#000" stroke-width="0.9" stroke-linecap="round"/>
<text x="251.7" y="542.35" font-size="13" fill="#000" text-anchor="middle">R</text>
<text x="279.7" y="419.3" font-size="9.5" font-style="italic" fill="#000" text-anchor="end">t</text>
<text x="279.9" y="424.2" font-size="13" fill="#000">Bu</text>
<path d="M295 479.45 L311.35 470 L327.7 479.45 L327.7 498.35 L311.35 507.8 L295 498.35 Z" fill="none" stroke="#000" stroke-width="2.4" stroke-linejoin="round" stroke-linecap="round"/>
<line x1="299.19" y1="481.42" x2="310.96" y2="474.61" stroke="#000" stroke-width="0.9" stroke-linecap="round"/>
<line x1="323.9" y1="482.1" x2="323.9" y2="495.7" stroke="#000" stroke-width="0.9" stroke-linecap="round"/>
<line x1="310.96" y1="503.19" x2="299.19" y2="496.38" stroke="#000" stroke-width="0.9" stroke-linecap="round"/>
<text x="291.1" y="465.8" font-size="13" fill="#2283d8">Br</text>
<line x1="295.3" y1="467.8" x2="295.3" y2="479.4" stroke="#000" stroke-width="0.9" stroke-linecap="round"/>
<text x="323.1" y="465.8" font-size="13" fill="#2283d8">Br</text>
<line x1="327.4" y1="467.8" x2="327.4" y2="479.4" stroke="#000" stroke-width="0.9" stroke-linecap="round"/>
<path d="M350.06 436.58 L337.21 450.17 L342.55 468.3 L360.9 472.42 L373.59 458.83 L368.25 440.91 Z" fill="none" stroke="#000" stroke-width="0.9" stroke-linejoin="round" stroke-linecap="round"/>
<line x1="350.7" y1="440.27" x2="340.93" y2="450.6" stroke="#000" stroke-width="0.9" stroke-linecap="round"/>
<line x1="370.07" y1="457.54" x2="366.02" y2="443.92" stroke="#000" stroke-width="0.9" stroke-linecap="round"/>
<line x1="345.54" y1="465.28" x2="359.49" y2="468.41" stroke="#000" stroke-width="0.9" stroke-linecap="round"/>
<line x1="342.55" y1="468.3" x2="360.9" y2="472.42" stroke="#000" stroke-width="2.4" stroke-linecap="round"/>
<line x1="350.06" y1="436.58" x2="346.2" y2="426.1" stroke="#000" stroke-width="0.9" stroke-linecap="round"/>
<line x1="342.55" y1="468.3" x2="342.72" y2="481.1" stroke="#000" stroke-width="0.9" stroke-linecap="round"/>
<text x="342.8" y="492.85" font-size="13" fill="#2283d8" text-anchor="middle">H</text>
<line x1="360.9" y1="472.42" x2="369.1" y2="489.7" stroke="#000" stroke-width="2.4" stroke-linecap="round"/>
<path d="M369.1 489.7 L387.7 491.4 L390.95 510.3 L374.33 519.35 L360.92 506 Z" fill="none" stroke="#000" stroke-width="2.4" stroke-linejoin="round" stroke-linecap="round"/>
<line x1="371.36" y1="493.72" x2="384.75" y2="494.95" stroke="#000" stroke-width="0.9" stroke-linecap="round"/>
<line x1="386.81" y1="508.23" x2="374.84" y2="514.75" stroke="#000" stroke-width="0.9" stroke-linecap="round"/>
<line x1="360.92" y1="506" x2="342.8" y2="510.1" stroke="#000" stroke-width="2.4" stroke-linecap="round"/>
<line x1="358.3" y1="502.8" x2="343.4" y2="506.3" stroke="#000" stroke-width="0.9" stroke-linecap="round"/>
<line x1="342.8" y1="510.1" x2="327.85" y2="498.65" stroke="#000" stroke-width="2.4" stroke-linecap="round"/>
<line x1="387.7" y1="491.4" x2="394.5" y2="484.11" stroke="#000" stroke-width="0.9" stroke-linecap="round"/>
<text x="400.3" y="483.65" font-size="13" fill="#000" text-anchor="middle">R</text>
<line x1="390.95" y1="510.3" x2="401.9" y2="515.27" stroke="#000" stroke-width="0.9" stroke-linecap="round"/>
<text x="407.7" y="523.65" font-size="13" fill="#000" text-anchor="middle">R</text>
<line x1="374.33" y1="519.35" x2="372.55" y2="530.6" stroke="#000" stroke-width="0.9" stroke-linecap="round"/>
<text x="371.6" y="542.35" font-size="13" fill="#000" text-anchor="middle">R</text>
<text x="331" y="419.3" font-size="9.5" font-style="italic" fill="#000" text-anchor="end">t</text>
<text x="331.2" y="424.2" font-size="13" fill="#000">Bu</text>
<text x="311.9" y="536.33" font-size="13.2" fill="#000" font-weight="bold" text-anchor="middle">8</text>
<text x="312" y="551.5" font-size="13" fill="#000" text-anchor="middle">25%</text>
<line x1="419.1" y1="495.9" x2="431.1" y2="495.9" stroke="#000" stroke-width="0.9" stroke-linecap="butt"/>
<path d="M439.9 495.9 L428.9 492.5 L431.1 495.9 L428.9 499.3 Z" fill="#000" stroke="none"/>
<text x="427.6" y="483.85" font-size="13" fill="#000" text-anchor="middle">ii</text>
<path d="M257.04 571.88 L269.89 585.47 L264.55 603.6 L246.2 607.72 L233.51 594.13 L238.85 576.21 Z" fill="none" stroke="#000" stroke-width="0.9" stroke-linejoin="round" stroke-linecap="round"/>
<line x1="256.4" y1="575.57" x2="266.17" y2="585.9" stroke="#000" stroke-width="0.9" stroke-linecap="round"/>
<line x1="237.03" y1="592.84" x2="241.08" y2="579.22" stroke="#000" stroke-width="0.9" stroke-linecap="round"/>
<line x1="261.56" y1="600.58" x2="247.61" y2="603.71" stroke="#000" stroke-width="0.9" stroke-linecap="round"/>
<line x1="264.55" y1="603.6" x2="246.2" y2="607.72" stroke="#000" stroke-width="2.4" stroke-linecap="round"/>
<line x1="257.04" y1="571.88" x2="262" y2="556.7" stroke="#000" stroke-width="0.9" stroke-linecap="round"/>
<line x1="264.55" y1="603.6" x2="264.38" y2="616.4" stroke="#000" stroke-width="0.9" stroke-linecap="round"/>
<text x="264.3" y="628.15" font-size="13" fill="#2283d8" text-anchor="middle">H</text>
<line x1="246.2" y1="607.72" x2="238" y2="625" stroke="#000" stroke-width="2.4" stroke-linecap="round"/>
<path d="M238 625 L219.4 626.7 L216.15 645.6 L232.77 654.65 L246.18 641.3 Z" fill="none" stroke="#000" stroke-width="2.4" stroke-linejoin="round" stroke-linecap="round"/>
<line x1="235.74" y1="629.02" x2="222.35" y2="630.25" stroke="#000" stroke-width="0.9" stroke-linecap="round"/>
<line x1="220.29" y1="643.53" x2="232.26" y2="650.05" stroke="#000" stroke-width="0.9" stroke-linecap="round"/>
<line x1="246.18" y1="641.3" x2="264.3" y2="645.4" stroke="#000" stroke-width="2.4" stroke-linecap="round"/>
<line x1="248.8" y1="638.1" x2="263.7" y2="641.6" stroke="#000" stroke-width="0.9" stroke-linecap="round"/>
<line x1="264.3" y1="645.4" x2="279.25" y2="633.95" stroke="#000" stroke-width="2.4" stroke-linecap="round"/>
<line x1="219.4" y1="626.7" x2="216.68" y2="623.5" stroke="#000" stroke-width="0.9" stroke-linecap="round"/>
<text x="211" y="622.55" font-size="13" fill="#000" text-anchor="middle">R</text>
<line x1="216.15" y1="645.6" x2="209.8" y2="649.83" stroke="#000" stroke-width="0.9" stroke-linecap="round"/>
<text x="204" y="659.45" font-size="13" fill="#000" text-anchor="middle">R</text>
<line x1="232.77" y1="654.65" x2="234.75" y2="667.1" stroke="#000" stroke-width="0.9" stroke-linecap="round"/>
<text x="235.7" y="678.85" font-size="13" fill="#000" text-anchor="middle">R</text>
<text x="264.1" y="555.3" font-size="9.5" font-style="italic" fill="#000" text-anchor="end">t</text>
<text x="264.3" y="560.2" font-size="13" fill="#000">Bu</text>
<path d="M278.6 615.05 L294.95 605.6 L311.3 615.05 L311.3 633.95 L294.95 643.4 L278.6 633.95 Z" fill="none" stroke="#000" stroke-width="2.4" stroke-linejoin="round" stroke-linecap="round"/>
<line x1="295.34" y1="610.21" x2="307.11" y2="617.02" stroke="#000" stroke-width="0.9" stroke-linecap="round"/>
<line x1="307.11" y1="631.98" x2="295.34" y2="638.79" stroke="#000" stroke-width="0.9" stroke-linecap="round"/>
<line x1="282.4" y1="631.3" x2="282.4" y2="617.7" stroke="#000" stroke-width="0.9" stroke-linecap="round"/>
<path d="M311.3 615.05 L327.65 605.6 L344 615.05 L344 633.95 L327.65 643.4 L311.3 633.95 Z" fill="none" stroke="#000" stroke-width="2.4" stroke-linejoin="round" stroke-linecap="round"/>
<line x1="328.04" y1="610.21" x2="339.81" y2="617.02" stroke="#000" stroke-width="0.9" stroke-linecap="round"/>
<line x1="339.81" y1="631.98" x2="328.04" y2="638.79" stroke="#000" stroke-width="0.9" stroke-linecap="round"/>
<text x="275" y="601.8" font-size="13" fill="#2283d8">Br</text>
<line x1="279.2" y1="603.6" x2="279.2" y2="615" stroke="#000" stroke-width="0.9" stroke-linecap="round"/>
<text x="339.5" y="657.3" font-size="13" fill="#2283d8">Br</text>
<line x1="344" y1="634" x2="344" y2="646.3" stroke="#000" stroke-width="0.9" stroke-linecap="round"/>
<path d="M365.56 677.12 L352.71 663.53 L358.05 645.4 L376.4 641.28 L389.09 654.87 L383.75 672.79 Z" fill="none" stroke="#000" stroke-width="0.9" stroke-linejoin="round" stroke-linecap="round"/>
<line x1="366.2" y1="673.43" x2="356.43" y2="663.1" stroke="#000" stroke-width="0.9" stroke-linecap="round"/>
<line x1="385.57" y1="656.16" x2="381.52" y2="669.78" stroke="#000" stroke-width="0.9" stroke-linecap="round"/>
<line x1="361.04" y1="648.42" x2="374.99" y2="645.29" stroke="#000" stroke-width="0.9" stroke-linecap="round"/>
<line x1="358.05" y1="645.4" x2="376.4" y2="641.28" stroke="#000" stroke-width="2.4" stroke-linecap="round"/>
<line x1="365.56" y1="677.12" x2="361.7" y2="689.4" stroke="#000" stroke-width="0.9" stroke-linecap="round"/>
<line x1="358.05" y1="645.4" x2="358.21" y2="633.3" stroke="#000" stroke-width="0.9" stroke-linecap="round"/>
<text x="358.3" y="632.35" font-size="13" fill="#2283d8" text-anchor="middle">H</text>
<line x1="376.4" y1="641.28" x2="384.6" y2="624" stroke="#000" stroke-width="2.4" stroke-linecap="round"/>
<path d="M384.6 624 L403.2 622.3 L406.45 603.4 L389.83 594.35 L376.42 607.7 Z" fill="none" stroke="#000" stroke-width="2.4" stroke-linejoin="round" stroke-linecap="round"/>
<line x1="386.86" y1="619.98" x2="400.25" y2="618.75" stroke="#000" stroke-width="0.9" stroke-linecap="round"/>
<line x1="402.31" y1="605.47" x2="390.34" y2="598.95" stroke="#000" stroke-width="0.9" stroke-linecap="round"/>
<line x1="376.42" y1="607.7" x2="358.3" y2="603.6" stroke="#000" stroke-width="2.4" stroke-linecap="round"/>
<line x1="373.8" y1="610.9" x2="358.9" y2="607.4" stroke="#000" stroke-width="0.9" stroke-linecap="round"/>
<line x1="358.3" y1="603.6" x2="343.35" y2="615.05" stroke="#000" stroke-width="2.4" stroke-linecap="round"/>
<line x1="403.2" y1="622.3" x2="410.6" y2="629.59" stroke="#000" stroke-width="0.9" stroke-linecap="round"/>
<text x="416.4" y="641.05" font-size="13" fill="#000" text-anchor="middle">R</text>
<line x1="406.45" y1="603.4" x2="417.4" y2="597.52" stroke="#000" stroke-width="0.9" stroke-linecap="round"/>
<text x="423.2" y="600.15" font-size="13" fill="#000" text-anchor="middle">R</text>
<line x1="389.83" y1="594.35" x2="388.08" y2="582.4" stroke="#000" stroke-width="0.9" stroke-linecap="round"/>
<text x="387.1" y="581.45" font-size="13" fill="#000" text-anchor="middle">R</text>
<text x="353" y="695.5" font-size="9.5" font-style="italic" fill="#000" text-anchor="end">t</text>
<text x="353.2" y="700.4" font-size="13" fill="#000">Bu</text>
<text x="312.3" y="682.13" font-size="13.2" fill="#000" font-weight="bold" text-anchor="middle">9</text>
<text x="312.1" y="697.3" font-size="13" fill="#000" text-anchor="middle">20%</text>
<line x1="419.1" y1="627" x2="431.1" y2="627" stroke="#000" stroke-width="0.9" stroke-linecap="butt"/>
<path d="M439.9 627 L428.9 623.6 L431.1 627 L428.9 630.4 Z" fill="#000" stroke="none"/>
<text x="427.9" y="620.95" font-size="13" fill="#000" text-anchor="middle">ii</text>
<path d="M569.3 183.7 L585.6 174.3 L601.9 183.7 L601.9 202.6 L585.6 212 L569.3 202.6 Z" fill="#a260d2" stroke="none"/>
<path d="M569.3 183.7 L585.6 174.3 L601.9 183.7 L601.9 202.6 L585.6 212 L569.3 202.6 Z" fill="none" stroke="#000" stroke-width="2.4" stroke-linejoin="round" stroke-linecap="round"/>
<line x1="585.98" y1="178.91" x2="597.72" y2="185.68" stroke="#000" stroke-width="0.9" stroke-linecap="round"/>
<line x1="597.72" y1="200.62" x2="585.98" y2="207.39" stroke="#000" stroke-width="0.9" stroke-linecap="round"/>
<line x1="547.2" y1="140.6" x2="560.2" y2="154.4" stroke="#000" stroke-width="0.9" stroke-linecap="round"/>
<line x1="560.2" y1="154.4" x2="555.3" y2="172.5" stroke="#000" stroke-width="0.9" stroke-linecap="round"/>
<line x1="536.3" y1="176.2" x2="524.1" y2="162.6" stroke="#000" stroke-width="0.9" stroke-linecap="round"/>
<line x1="524.1" y1="162.6" x2="529.2" y2="144.6" stroke="#000" stroke-width="0.9" stroke-linecap="round"/>
<line x1="529.2" y1="144.6" x2="547.2" y2="140.6" stroke="#000" stroke-width="0.9" stroke-linecap="round"/>
<line x1="546.58" y1="144.31" x2="556.46" y2="154.8" stroke="#000" stroke-width="0.9" stroke-linecap="round"/>
<line x1="527.6" y1="161.26" x2="531.47" y2="147.58" stroke="#000" stroke-width="0.9" stroke-linecap="round"/>
<line x1="547.2" y1="140.6" x2="552.9" y2="125" stroke="#000" stroke-width="0.9" stroke-linecap="round"/>
<path d="M528.8 193.1 L509.4 195.7 L506.5 214.5 L523.1 222.9 L535.7 210 Z" fill="#a260d2" stroke="none"/>
<path d="M528.8 193.1 L509.4 195.7 L506.5 214.5 L523.1 222.9 L535.7 210 Z" fill="none" stroke="#000" stroke-width="2.4" stroke-linejoin="round" stroke-linecap="round"/>
<line x1="526.59" y1="197.23" x2="512.62" y2="199.1" stroke="#000" stroke-width="0.9" stroke-linecap="round"/>
<line x1="510.54" y1="212.29" x2="522.49" y2="218.33" stroke="#000" stroke-width="0.9" stroke-linecap="round"/>
<path d="M536.3 176.2 L555.3 172.5 L569.3 183.7 L569.3 202.6 L554.6 214.5 L535.7 210 L528.8 193.1 Z" fill="#a260d2" stroke="none"/>
<path d="M536.3 176.2 L555.3 172.5 L569.3 183.7 L569.3 202.6 L554.6 214.5 L535.7 210 L528.8 193.1 Z" fill="none" stroke="#000" stroke-width="2.4" stroke-linejoin="round" stroke-linecap="round"/>
<line x1="539.69" y1="179.41" x2="553.37" y2="176.75" stroke="#000" stroke-width="0.9" stroke-linecap="round"/>
<line x1="565.5" y1="186.35" x2="565.5" y2="199.95" stroke="#000" stroke-width="0.9" stroke-linecap="round"/>
<line x1="552.83" y1="210.17" x2="539.23" y2="206.93" stroke="#000" stroke-width="0.9" stroke-linecap="round"/>
<line x1="509.4" y1="195.7" x2="502.8" y2="188.73" stroke="#000" stroke-width="0.9" stroke-linecap="round"/>
<text x="497" y="188.35" font-size="13" fill="#000" text-anchor="middle">R</text>
<line x1="506.5" y1="214.5" x2="495.4" y2="219.49" stroke="#000" stroke-width="0.9" stroke-linecap="round"/>
<text x="489.6" y="227.85" font-size="13" fill="#000" text-anchor="middle">R</text>
<line x1="523.1" y1="222.9" x2="524.84" y2="235.1" stroke="#000" stroke-width="0.9" stroke-linecap="round"/>
<text x="525.7" y="246.85" font-size="13" fill="#000" text-anchor="middle">R</text>
<text x="554.3" y="123.5" font-size="9.5" font-style="italic" fill="#000" text-anchor="end">t</text>
<text x="554.5" y="128.4" font-size="13" fill="#000">Bu</text>
<text x="523.5" y="142.3" font-size="13.2" fill="#000" font-weight="bold" text-anchor="middle">c</text>
<text x="566.6" y="157.8" font-size="13.2" fill="#000" font-weight="bold" text-anchor="middle">b</text>
<text x="517.8" y="167" font-size="13.2" fill="#000" font-weight="bold" text-anchor="middle">d</text>
<text x="585.7" y="169.6" font-size="13.2" fill="#000" font-weight="bold" text-anchor="middle">a</text>
<text x="608.4" y="181.7" font-size="13.2" fill="#000" font-weight="bold" text-anchor="middle">h</text>
<text x="609" y="209.1" font-size="13.2" fill="#000" font-weight="bold" text-anchor="middle">g</text>
<text x="556.9" y="225.2" font-size="13.2" fill="#000" font-weight="bold" text-anchor="middle">e</text>
<text x="586.3" y="225.2" font-size="13.2" fill="#000" font-weight="bold" text-anchor="middle">f</text>
<path d="M568.96 164.88 Q577.71 159.17 580.06 148.98 M570.44 165.92 Q572.79 155.73 581.54 150.02" fill="none" stroke="#000" stroke-width="0.75" stroke-linecap="round"/>
<text x="546.4" y="240.2" font-size="12.5" fill="#000" font-weight="bold" text-anchor="middle">DBA</text>
<text x="546.9" y="255.9" font-size="13" fill="#000" text-anchor="middle">70%</text>
<path d="M527.5 321.2 L543.8 311.8 L560.1 321.2 L560.1 340.1 L543.8 349.5 L527.5 340.1 Z" fill="#a260d2" stroke="none"/>
<path d="M527.5 321.2 L543.8 311.8 L560.1 321.2 L560.1 340.1 L543.8 349.5 L527.5 340.1 Z" fill="none" stroke="#000" stroke-width="2.4" stroke-linejoin="round" stroke-linecap="round"/>
<line x1="544.18" y1="316.41" x2="555.92" y2="323.18" stroke="#000" stroke-width="0.9" stroke-linecap="round"/>
<line x1="555.92" y1="338.12" x2="544.18" y2="344.89" stroke="#000" stroke-width="0.9" stroke-linecap="round"/>
<line x1="505.4" y1="278.1" x2="518.4" y2="291.9" stroke="#000" stroke-width="0.9" stroke-linecap="round"/>
<line x1="518.4" y1="291.9" x2="513.5" y2="310" stroke="#000" stroke-width="0.9" stroke-linecap="round"/>
<line x1="494.5" y1="313.7" x2="482.3" y2="300.1" stroke="#000" stroke-width="0.9" stroke-linecap="round"/>
<line x1="482.3" y1="300.1" x2="487.4" y2="282.1" stroke="#000" stroke-width="0.9" stroke-linecap="round"/>
<line x1="487.4" y1="282.1" x2="505.4" y2="278.1" stroke="#000" stroke-width="0.9" stroke-linecap="round"/>
<line x1="504.78" y1="281.81" x2="514.66" y2="292.3" stroke="#000" stroke-width="0.9" stroke-linecap="round"/>
<line x1="485.8" y1="298.76" x2="489.67" y2="285.08" stroke="#000" stroke-width="0.9" stroke-linecap="round"/>
<line x1="505.4" y1="278.1" x2="511.1" y2="262.5" stroke="#000" stroke-width="0.9" stroke-linecap="round"/>
<path d="M487 330.6 L467.6 333.2 L464.7 352 L481.3 360.4 L493.9 347.5 Z" fill="#a260d2" stroke="none"/>
<path d="M487 330.6 L467.6 333.2 L464.7 352 L481.3 360.4 L493.9 347.5 Z" fill="none" stroke="#000" stroke-width="2.4" stroke-linejoin="round" stroke-linecap="round"/>
<line x1="484.79" y1="334.73" x2="470.82" y2="336.6" stroke="#000" stroke-width="0.9" stroke-linecap="round"/>
<line x1="468.74" y1="349.79" x2="480.69" y2="355.83" stroke="#000" stroke-width="0.9" stroke-linecap="round"/>
<path d="M494.5 313.7 L513.5 310 L527.5 321.2 L527.5 340.1 L512.8 352 L493.9 347.5 L487 330.6 Z" fill="#a260d2" stroke="none"/>
<path d="M494.5 313.7 L513.5 310 L527.5 321.2 L527.5 340.1 L512.8 352 L493.9 347.5 L487 330.6 Z" fill="none" stroke="#000" stroke-width="2.4" stroke-linejoin="round" stroke-linecap="round"/>
<line x1="497.89" y1="316.91" x2="511.57" y2="314.25" stroke="#000" stroke-width="0.9" stroke-linecap="round"/>
<line x1="523.7" y1="323.85" x2="523.7" y2="337.45" stroke="#000" stroke-width="0.9" stroke-linecap="round"/>
<line x1="511.03" y1="347.67" x2="497.43" y2="344.43" stroke="#000" stroke-width="0.9" stroke-linecap="round"/>
<line x1="467.6" y1="333.2" x2="461" y2="326.23" stroke="#000" stroke-width="0.9" stroke-linecap="round"/>
<text x="455.2" y="325.85" font-size="13" fill="#000" text-anchor="middle">R</text>
<line x1="464.7" y1="352" x2="453.6" y2="356.99" stroke="#000" stroke-width="0.9" stroke-linecap="round"/>
<text x="447.8" y="365.35" font-size="13" fill="#000" text-anchor="middle">R</text>
<line x1="481.3" y1="360.4" x2="483.04" y2="372.6" stroke="#000" stroke-width="0.9" stroke-linecap="round"/>
<text x="483.9" y="384.35" font-size="13" fill="#000" text-anchor="middle">R</text>
<text x="512.4" y="260.9" font-size="9.5" font-style="italic" fill="#000" text-anchor="end">t</text>
<text x="512.6" y="265.8" font-size="13" fill="#000">Bu</text>
<line x1="582.2" y1="383.2" x2="569.2" y2="369.4" stroke="#000" stroke-width="0.9" stroke-linecap="round"/>
<line x1="569.2" y1="369.4" x2="574.1" y2="351.3" stroke="#000" stroke-width="0.9" stroke-linecap="round"/>
<line x1="593.1" y1="347.6" x2="605.3" y2="361.2" stroke="#000" stroke-width="0.9" stroke-linecap="round"/>
<line x1="605.3" y1="361.2" x2="600.2" y2="379.2" stroke="#000" stroke-width="0.9" stroke-linecap="round"/>
<line x1="600.2" y1="379.2" x2="582.2" y2="383.2" stroke="#000" stroke-width="0.9" stroke-linecap="round"/>
<line x1="582.82" y1="379.49" x2="572.94" y2="369" stroke="#000" stroke-width="0.9" stroke-linecap="round"/>
<line x1="601.8" y1="362.54" x2="597.93" y2="376.22" stroke="#000" stroke-width="0.9" stroke-linecap="round"/>
<line x1="582.2" y1="383.2" x2="579" y2="395" stroke="#000" stroke-width="0.9" stroke-linecap="round"/>
<path d="M600.6 330.7 L620 328.1 L622.9 309.3 L606.3 300.9 L593.7 313.8 Z" fill="#a260d2" stroke="none"/>
<path d="M600.6 330.7 L620 328.1 L622.9 309.3 L606.3 300.9 L593.7 313.8 Z" fill="none" stroke="#000" stroke-width="2.4" stroke-linejoin="round" stroke-linecap="round"/>
<line x1="602.81" y1="326.57" x2="616.78" y2="324.7" stroke="#000" stroke-width="0.9" stroke-linecap="round"/>
<line x1="618.86" y1="311.51" x2="606.91" y2="305.47" stroke="#000" stroke-width="0.9" stroke-linecap="round"/>
<path d="M593.1 347.6 L574.1 351.3 L560.1 340.1 L560.1 321.2 L574.8 309.3 L593.7 313.8 L600.6 330.7 Z" fill="#a260d2" stroke="none"/>
<path d="M593.1 347.6 L574.1 351.3 L560.1 340.1 L560.1 321.2 L574.8 309.3 L593.7 313.8 L600.6 330.7 Z" fill="none" stroke="#000" stroke-width="2.4" stroke-linejoin="round" stroke-linecap="round"/>
<line x1="589.71" y1="344.39" x2="576.03" y2="347.05" stroke="#000" stroke-width="0.9" stroke-linecap="round"/>
<line x1="576.57" y1="313.63" x2="590.17" y2="316.87" stroke="#000" stroke-width="0.9" stroke-linecap="round"/>
<line x1="620" y1="328.1" x2="626.72" y2="335.2" stroke="#000" stroke-width="0.9" stroke-linecap="round"/>
<text x="632.4" y="346.95" font-size="13" fill="#000" text-anchor="middle">R</text>
<line x1="622.9" y1="309.3" x2="634" y2="304.31" stroke="#000" stroke-width="0.9" stroke-linecap="round"/>
<text x="639.8" y="307.45" font-size="13" fill="#000" text-anchor="middle">R</text>
<line x1="606.3" y1="300.9" x2="604.66" y2="289.4" stroke="#000" stroke-width="0.9" stroke-linecap="round"/>
<text x="603.7" y="288.45" font-size="13" fill="#000" text-anchor="middle">R</text>
<text x="569.5" y="401.5" font-size="9.5" font-style="italic" fill="#000" text-anchor="end">t</text>
<text x="569.7" y="406.4" font-size="13" fill="#000">Bu</text>
<text x="481.9" y="282.7" font-size="13.2" fill="#000" font-weight="bold" text-anchor="middle">c</text>
<text x="476.4" y="307.2" font-size="13.2" fill="#000" font-weight="bold" text-anchor="middle">d</text>
<text x="524.3" y="296.9" font-size="13.2" fill="#000" font-weight="bold" text-anchor="middle">b</text>
<text x="544.65" y="308.5" font-size="13.2" fill="#000" font-weight="bold" text-anchor="middle">a</text>
<text x="513.6" y="363" font-size="13.2" fill="#000" font-weight="bold" text-anchor="middle">e</text>
<path d="M528.87 304.08 Q537.69 298.45 540.17 288.28 M530.33 305.12 Q532.81 294.95 541.63 289.32" fill="none" stroke="#000" stroke-width="0.75" stroke-linecap="round"/>
<text x="543.4" y="385.7" font-size="12.5" fill="#000" font-weight="bold" text-anchor="middle">BDA1</text>
<text x="543.5" y="401.5" font-size="13" fill="#000" text-anchor="middle">64%</text>
<path d="M527.5 479.2 L543.8 469.8 L560.1 479.2 L560.1 498.1 L543.8 507.5 L527.5 498.1 Z" fill="#a260d2" stroke="none"/>
<path d="M527.5 479.2 L543.8 469.8 L560.1 479.2 L560.1 498.1 L543.8 507.5 L527.5 498.1 Z" fill="none" stroke="#000" stroke-width="2.4" stroke-linejoin="round" stroke-linecap="round"/>
<line x1="544.18" y1="474.41" x2="555.92" y2="481.18" stroke="#000" stroke-width="0.9" stroke-linecap="round"/>
<line x1="555.92" y1="496.12" x2="544.18" y2="502.89" stroke="#000" stroke-width="0.9" stroke-linecap="round"/>
<line x1="505.4" y1="436.1" x2="518.4" y2="449.9" stroke="#000" stroke-width="0.9" stroke-linecap="round"/>
<line x1="518.4" y1="449.9" x2="513.5" y2="468" stroke="#000" stroke-width="0.9" stroke-linecap="round"/>
<line x1="494.5" y1="471.7" x2="482.3" y2="458.1" stroke="#000" stroke-width="0.9" stroke-linecap="round"/>
<line x1="482.3" y1="458.1" x2="487.4" y2="440.1" stroke="#000" stroke-width="0.9" stroke-linecap="round"/>
<line x1="487.4" y1="440.1" x2="505.4" y2="436.1" stroke="#000" stroke-width="0.9" stroke-linecap="round"/>
<line x1="504.78" y1="439.81" x2="514.66" y2="450.3" stroke="#000" stroke-width="0.9" stroke-linecap="round"/>
<line x1="485.8" y1="456.76" x2="489.67" y2="443.08" stroke="#000" stroke-width="0.9" stroke-linecap="round"/>
<line x1="505.4" y1="436.1" x2="511.1" y2="420.5" stroke="#000" stroke-width="0.9" stroke-linecap="round"/>
<path d="M487 488.6 L467.6 491.2 L464.7 510 L481.3 518.4 L493.9 505.5 Z" fill="#a260d2" stroke="none"/>
<path d="M487 488.6 L467.6 491.2 L464.7 510 L481.3 518.4 L493.9 505.5 Z" fill="none" stroke="#000" stroke-width="2.4" stroke-linejoin="round" stroke-linecap="round"/>
<line x1="484.79" y1="492.73" x2="470.82" y2="494.6" stroke="#000" stroke-width="0.9" stroke-linecap="round"/>
<line x1="468.74" y1="507.79" x2="480.69" y2="513.83" stroke="#000" stroke-width="0.9" stroke-linecap="round"/>
<path d="M494.5 471.7 L513.5 468 L527.5 479.2 L527.5 498.1 L512.8 510 L493.9 505.5 L487 488.6 Z" fill="#a260d2" stroke="none"/>
<path d="M494.5 471.7 L513.5 468 L527.5 479.2 L527.5 498.1 L512.8 510 L493.9 505.5 L487 488.6 Z" fill="none" stroke="#000" stroke-width="2.4" stroke-linejoin="round" stroke-linecap="round"/>
<line x1="497.89" y1="474.91" x2="511.57" y2="472.25" stroke="#000" stroke-width="0.9" stroke-linecap="round"/>
<line x1="523.7" y1="481.85" x2="523.7" y2="495.45" stroke="#000" stroke-width="0.9" stroke-linecap="round"/>
<line x1="511.03" y1="505.67" x2="497.43" y2="502.43" stroke="#000" stroke-width="0.9" stroke-linecap="round"/>
<line x1="467.6" y1="491.2" x2="461" y2="484.23" stroke="#000" stroke-width="0.9" stroke-linecap="round"/>
<text x="455.2" y="483.85" font-size="13" fill="#000" text-anchor="middle">R</text>
<line x1="464.7" y1="510" x2="453.6" y2="514.99" stroke="#000" stroke-width="0.9" stroke-linecap="round"/>
<text x="447.8" y="523.35" font-size="13" fill="#000" text-anchor="middle">R</text>
<line x1="481.3" y1="518.4" x2="483.04" y2="530.6" stroke="#000" stroke-width="0.9" stroke-linecap="round"/>
<text x="483.9" y="542.35" font-size="13" fill="#000" text-anchor="middle">R</text>
<text x="512.2" y="418.9" font-size="9.5" font-style="italic" fill="#000" text-anchor="end">t</text>
<text x="512.4" y="423.8" font-size="13" fill="#000">Bu</text>
<line x1="582.4" y1="436.1" x2="569.4" y2="449.9" stroke="#000" stroke-width="0.9" stroke-linecap="round"/>
<line x1="569.4" y1="449.9" x2="574.3" y2="468" stroke="#000" stroke-width="0.9" stroke-linecap="round"/>
<line x1="593.3" y1="471.7" x2="605.5" y2="458.1" stroke="#000" stroke-width="0.9" stroke-linecap="round"/>
<line x1="605.5" y1="458.1" x2="600.4" y2="440.1" stroke="#000" stroke-width="0.9" stroke-linecap="round"/>
<line x1="600.4" y1="440.1" x2="582.4" y2="436.1" stroke="#000" stroke-width="0.9" stroke-linecap="round"/>
<line x1="583.02" y1="439.81" x2="573.14" y2="450.3" stroke="#000" stroke-width="0.9" stroke-linecap="round"/>
<line x1="602" y1="456.76" x2="598.13" y2="443.08" stroke="#000" stroke-width="0.9" stroke-linecap="round"/>
<line x1="582.4" y1="436.1" x2="579.3" y2="425.5" stroke="#000" stroke-width="0.9" stroke-linecap="round"/>
<path d="M600.8 488.6 L620.2 491.2 L623.1 510 L606.5 518.4 L593.9 505.5 Z" fill="#a260d2" stroke="none"/>
<path d="M600.8 488.6 L620.2 491.2 L623.1 510 L606.5 518.4 L593.9 505.5 Z" fill="none" stroke="#000" stroke-width="2.4" stroke-linejoin="round" stroke-linecap="round"/>
<line x1="603.01" y1="492.73" x2="616.98" y2="494.6" stroke="#000" stroke-width="0.9" stroke-linecap="round"/>
<line x1="619.06" y1="507.79" x2="607.11" y2="513.83" stroke="#000" stroke-width="0.9" stroke-linecap="round"/>
<path d="M593.3 471.7 L574.3 468 L560.3 479.2 L560.3 498.1 L575 510 L593.9 505.5 L600.8 488.6 Z" fill="#a260d2" stroke="none"/>
<path d="M593.3 471.7 L574.3 468 L560.3 479.2 L560.3 498.1 L575 510 L593.9 505.5 L600.8 488.6 Z" fill="none" stroke="#000" stroke-width="2.4" stroke-linejoin="round" stroke-linecap="round"/>
<line x1="589.91" y1="474.91" x2="576.23" y2="472.25" stroke="#000" stroke-width="0.9" stroke-linecap="round"/>
<line x1="576.77" y1="505.67" x2="590.37" y2="502.43" stroke="#000" stroke-width="0.9" stroke-linecap="round"/>
<line x1="620.2" y1="491.2" x2="626.8" y2="484.23" stroke="#000" stroke-width="0.9" stroke-linecap="round"/>
<text x="632.6" y="483.85" font-size="13" fill="#000" text-anchor="middle">R</text>
<line x1="623.1" y1="510" x2="634.2" y2="514.99" stroke="#000" stroke-width="0.9" stroke-linecap="round"/>
<text x="640" y="523.35" font-size="13" fill="#000" text-anchor="middle">R</text>
<line x1="606.5" y1="518.4" x2="604.76" y2="530.6" stroke="#000" stroke-width="0.9" stroke-linecap="round"/>
<text x="603.9" y="542.35" font-size="13" fill="#000" text-anchor="middle">R</text>
<text x="563.2" y="419.6" font-size="9.5" font-style="italic" fill="#000" text-anchor="end">t</text>
<text x="563.4" y="424.5" font-size="13" fill="#000">Bu</text>
<text x="481.9" y="440.7" font-size="13.2" fill="#000" font-weight="bold" text-anchor="middle">c</text>
<text x="476.4" y="465.2" font-size="13.2" fill="#000" font-weight="bold" text-anchor="middle">d</text>
<text x="524.3" y="454.9" font-size="13.2" fill="#000" font-weight="bold" text-anchor="middle">b</text>
<text x="544.65" y="466.5" font-size="13.2" fill="#000" font-weight="bold" text-anchor="middle">a</text>
<text x="514" y="521.3" font-size="13.2" fill="#000" font-weight="bold" text-anchor="middle">e</text>
<text x="545.4" y="521.3" font-size="13.2" fill="#000" font-weight="bold" text-anchor="middle">f</text>
<path d="M527.27 462.77 Q536.12 457.33 538.67 447.27 M528.73 463.83 Q531.28 453.77 540.13 448.33" fill="none" stroke="#000" stroke-width="0.75" stroke-linecap="round"/>
<text x="544.5" y="535.2" font-size="12.5" fill="#000" font-weight="bold" text-anchor="middle">BDA2</text>
<text x="544" y="550.8" font-size="13" fill="#000" text-anchor="middle">45%</text>
<path d="M511.4 614.4 L527.7 605 L544 614.4 L544 633.3 L527.7 642.7 L511.4 633.3 Z" fill="#a260d2" stroke="none"/>
<path d="M511.4 614.4 L527.7 605 L544 614.4 L544 633.3 L527.7 642.7 L511.4 633.3 Z" fill="none" stroke="#000" stroke-width="2.4" stroke-linejoin="round" stroke-linecap="round"/>
<line x1="528.08" y1="609.61" x2="539.82" y2="616.38" stroke="#000" stroke-width="0.9" stroke-linecap="round"/>
<line x1="539.82" y1="631.32" x2="528.08" y2="638.09" stroke="#000" stroke-width="0.9" stroke-linecap="round"/>
<path d="M544 614.4 L560.3 605 L576.6 614.4 L576.6 633.3 L560.3 642.7 L544 633.3 Z" fill="#a260d2" stroke="none"/>
<path d="M544 614.4 L560.3 605 L576.6 614.4 L576.6 633.3 L560.3 642.7 L544 633.3 Z" fill="none" stroke="#000" stroke-width="2.4" stroke-linejoin="round" stroke-linecap="round"/>
<line x1="560.68" y1="609.61" x2="572.42" y2="616.38" stroke="#000" stroke-width="0.9" stroke-linecap="round"/>
<line x1="572.42" y1="631.32" x2="560.68" y2="638.09" stroke="#000" stroke-width="0.9" stroke-linecap="round"/>
<line x1="489.3" y1="571.3" x2="502.3" y2="585.1" stroke="#000" stroke-width="0.9" stroke-linecap="round"/>
<line x1="502.3" y1="585.1" x2="497.4" y2="603.2" stroke="#000" stroke-width="0.9" stroke-linecap="round"/>
<line x1="478.4" y1="606.9" x2="466.2" y2="593.3" stroke="#000" stroke-width="0.9" stroke-linecap="round"/>
<line x1="466.2" y1="593.3" x2="471.3" y2="575.3" stroke="#000" stroke-width="0.9" stroke-linecap="round"/>
<line x1="471.3" y1="575.3" x2="489.3" y2="571.3" stroke="#000" stroke-width="0.9" stroke-linecap="round"/>
<line x1="488.68" y1="575.01" x2="498.56" y2="585.5" stroke="#000" stroke-width="0.9" stroke-linecap="round"/>
<line x1="469.7" y1="591.96" x2="473.57" y2="578.28" stroke="#000" stroke-width="0.9" stroke-linecap="round"/>
<line x1="489.3" y1="571.3" x2="495" y2="555.7" stroke="#000" stroke-width="0.9" stroke-linecap="round"/>
<path d="M470.9 623.8 L451.5 626.4 L448.6 645.2 L465.2 653.6 L477.8 640.7 Z" fill="#a260d2" stroke="none"/>
<path d="M470.9 623.8 L451.5 626.4 L448.6 645.2 L465.2 653.6 L477.8 640.7 Z" fill="none" stroke="#000" stroke-width="2.4" stroke-linejoin="round" stroke-linecap="round"/>
<line x1="468.69" y1="627.93" x2="454.72" y2="629.8" stroke="#000" stroke-width="0.9" stroke-linecap="round"/>
<line x1="452.64" y1="642.99" x2="464.59" y2="649.03" stroke="#000" stroke-width="0.9" stroke-linecap="round"/>
<path d="M478.4 606.9 L497.4 603.2 L511.4 614.4 L511.4 633.3 L496.7 645.2 L477.8 640.7 L470.9 623.8 Z" fill="#a260d2" stroke="none"/>
<path d="M478.4 606.9 L497.4 603.2 L511.4 614.4 L511.4 633.3 L496.7 645.2 L477.8 640.7 L470.9 623.8 Z" fill="none" stroke="#000" stroke-width="2.4" stroke-linejoin="round" stroke-linecap="round"/>
<line x1="481.79" y1="610.11" x2="495.47" y2="607.45" stroke="#000" stroke-width="0.9" stroke-linecap="round"/>
<line x1="507.6" y1="617.05" x2="507.6" y2="630.65" stroke="#000" stroke-width="0.9" stroke-linecap="round"/>
<line x1="494.93" y1="640.87" x2="481.33" y2="637.63" stroke="#000" stroke-width="0.9" stroke-linecap="round"/>
<line x1="451.5" y1="626.4" x2="447.8" y2="622.89" stroke="#000" stroke-width="0.9" stroke-linecap="round"/>
<text x="442" y="623.15" font-size="13" fill="#000" text-anchor="middle">R</text>
<line x1="448.6" y1="645.2" x2="437.5" y2="650.19" stroke="#000" stroke-width="0.9" stroke-linecap="round"/>
<text x="431.7" y="658.55" font-size="13" fill="#000" text-anchor="middle">R</text>
<line x1="465.2" y1="653.6" x2="466.94" y2="665.8" stroke="#000" stroke-width="0.9" stroke-linecap="round"/>
<text x="467.8" y="677.55" font-size="13" fill="#000" text-anchor="middle">R</text>
<text x="496.2" y="554" font-size="9.5" font-style="italic" fill="#000" text-anchor="end">t</text>
<text x="496.4" y="558.9" font-size="13" fill="#000">Bu</text>
<line x1="598.7" y1="676.4" x2="585.7" y2="662.6" stroke="#000" stroke-width="0.9" stroke-linecap="round"/>
<line x1="585.7" y1="662.6" x2="590.6" y2="644.5" stroke="#000" stroke-width="0.9" stroke-linecap="round"/>
<line x1="609.6" y1="640.8" x2="621.8" y2="654.4" stroke="#000" stroke-width="0.9" stroke-linecap="round"/>
<line x1="621.8" y1="654.4" x2="616.7" y2="672.4" stroke="#000" stroke-width="0.9" stroke-linecap="round"/>
<line x1="616.7" y1="672.4" x2="598.7" y2="676.4" stroke="#000" stroke-width="0.9" stroke-linecap="round"/>
<line x1="599.32" y1="672.69" x2="589.44" y2="662.2" stroke="#000" stroke-width="0.9" stroke-linecap="round"/>
<line x1="618.3" y1="655.74" x2="614.43" y2="669.42" stroke="#000" stroke-width="0.9" stroke-linecap="round"/>
<line x1="598.7" y1="676.4" x2="594.7" y2="688.2" stroke="#000" stroke-width="0.9" stroke-linecap="round"/>
<path d="M617.1 623.9 L636.5 621.3 L639.4 602.5 L622.8 594.1 L610.2 607 Z" fill="#a260d2" stroke="none"/>
<path d="M617.1 623.9 L636.5 621.3 L639.4 602.5 L622.8 594.1 L610.2 607 Z" fill="none" stroke="#000" stroke-width="2.4" stroke-linejoin="round" stroke-linecap="round"/>
<line x1="619.31" y1="619.77" x2="633.28" y2="617.9" stroke="#000" stroke-width="0.9" stroke-linecap="round"/>
<line x1="635.36" y1="604.71" x2="623.41" y2="598.67" stroke="#000" stroke-width="0.9" stroke-linecap="round"/>
<path d="M609.6 640.8 L590.6 644.5 L576.6 633.3 L576.6 614.4 L591.3 602.5 L610.2 607 L617.1 623.9 Z" fill="#a260d2" stroke="none"/>
<path d="M609.6 640.8 L590.6 644.5 L576.6 633.3 L576.6 614.4 L591.3 602.5 L610.2 607 L617.1 623.9 Z" fill="none" stroke="#000" stroke-width="2.4" stroke-linejoin="round" stroke-linecap="round"/>
<line x1="606.21" y1="637.59" x2="592.53" y2="640.25" stroke="#000" stroke-width="0.9" stroke-linecap="round"/>
<line x1="593.07" y1="606.83" x2="606.67" y2="610.07" stroke="#000" stroke-width="0.9" stroke-linecap="round"/>
<line x1="636.5" y1="621.3" x2="641.33" y2="626.6" stroke="#000" stroke-width="0.9" stroke-linecap="round"/>
<text x="646.8" y="638.35" font-size="13" fill="#000" text-anchor="middle">R</text>
<line x1="639.4" y1="602.5" x2="643.1" y2="599.19" stroke="#000" stroke-width="0.9" stroke-linecap="round"/>
<text x="648.9" y="599.75" font-size="13" fill="#000" text-anchor="middle">R</text>
<line x1="622.8" y1="594.1" x2="621.12" y2="581.9" stroke="#000" stroke-width="0.9" stroke-linecap="round"/>
<text x="620.2" y="580.95" font-size="13" fill="#000" text-anchor="middle">R</text>
<text x="585.6" y="694.2" font-size="9.5" font-style="italic" fill="#000" text-anchor="end">t</text>
<text x="585.8" y="699.1" font-size="13" fill="#000">Bu</text>
<text x="465.9" y="575.7" font-size="13.2" fill="#000" font-weight="bold" text-anchor="middle">c</text>
<text x="460.6" y="599.6" font-size="13.2" fill="#000" font-weight="bold" text-anchor="middle">d</text>
<text x="508.5" y="588.6" font-size="13.2" fill="#000" font-weight="bold" text-anchor="middle">b</text>
<text x="527.7" y="601.1" font-size="13.2" fill="#000" font-weight="bold" text-anchor="middle">a</text>
<text x="497.5" y="656.3" font-size="13.2" fill="#000" font-weight="bold" text-anchor="middle">e</text>
<text x="527.8" y="656.3" font-size="13.2" fill="#000" font-weight="bold" text-anchor="middle">f</text>
<path d="M511.16 596.88 Q519.81 591.32 522.06 581.28 M512.64 597.92 Q514.89 587.88 523.54 582.32" fill="none" stroke="#000" stroke-width="0.75" stroke-linecap="round"/>
<text x="544" y="682.2" font-size="12.5" fill="#000" font-weight="bold" text-anchor="middle">NDA</text>
<text x="543.6" y="697.3" font-size="13" fill="#000" text-anchor="middle">40%</text>
<text x="660.3" y="705.3" font-size="10" fill="#666" text-anchor="middle" font-family="DejaVu Sans, sans-serif">↵</text>
</svg>
</body></html>
